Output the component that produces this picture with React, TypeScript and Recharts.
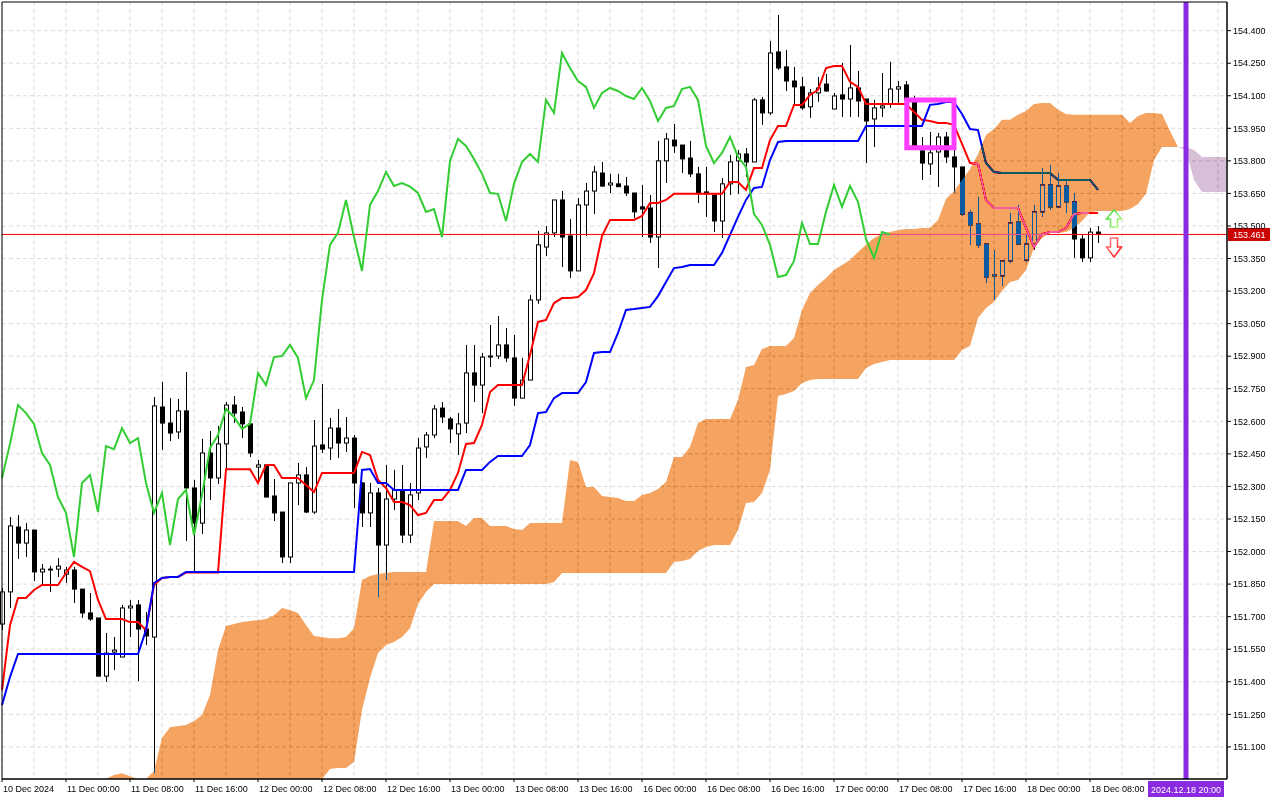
import React from "react"
import {
  ComposedChart,
  Bar,
  Line,
  Area,
  XAxis,
  YAxis,
  CartesianGrid,
  ReferenceLine,
  ReferenceArea,
  ReferenceDot,
} from "recharts"

const FONT = '"Liberation Sans", Arial, sans-serif'

// H1 bars, 10 Dec 16:00 (bar 0) .. 18 Dec 09:00 (bar 137)
const opens = [
  151.666, 151.814, 152.113, 152.039, 152.099, 151.906, 151.919, 151.919, 151.896, 151.915,
  151.827, 151.717, 151.694, 151.426, 151.537, 151.514, 151.740, 151.754, 151.643, 151.606,
  152.666, 152.592, 152.551, 152.648, 152.293, 152.131, 152.454, 152.339, 152.496, 152.675,
  152.643, 152.588, 152.389, 152.399, 152.256, 152.182, 151.975, 152.316, 152.353, 152.182,
  152.491, 152.477, 152.569, 152.500, 152.523, 152.316, 152.178, 152.270, 152.030, 152.242,
  152.284, 152.076, 152.270, 152.482, 152.537, 152.661, 152.611, 152.542, 152.592, 152.823,
  152.767, 152.896, 152.901, 152.952, 152.892, 152.707, 152.790, 153.159, 153.403, 153.468,
  153.620, 153.454, 153.293, 153.597, 153.661, 153.744, 153.689, 153.694, 153.684, 153.652,
  153.588, 153.583, 153.449, 153.800, 153.896, 153.873, 153.813, 153.740, 153.657, 153.643,
  153.523, 153.694, 153.800, 153.832, 153.795, 154.081, 154.021, 154.302, 154.233, 154.168,
  154.141, 154.049, 154.113, 154.154, 154.039, 154.104, 154.085, 154.136, 154.085, 153.993,
  154.044, 154.062, 154.131, 154.150, 154.081, 153.846, 153.786, 153.841, 153.910, 153.818,
  153.772, 153.560, 153.509, 153.417, 153.270, 153.270, 153.339, 153.518, 153.343, 153.417,
  153.565, 153.689, 153.588, 153.684, 153.611, 153.440, 153.353, 153.472,
]
const highs = [
  151.832, 152.159, 152.168, 152.131, 152.099, 151.943, 151.934, 151.970, 151.929, 151.929,
  151.827, 151.809, 151.694, 151.625, 151.606, 151.754, 151.777, 151.777, 151.721, 152.712,
  152.781, 152.707, 152.703, 152.827, 152.330, 152.519, 152.555, 152.579, 152.689, 152.717,
  152.666, 152.592, 152.422, 152.404, 152.334, 152.182, 152.316, 152.408, 152.389, 152.606,
  152.772, 152.615, 152.657, 152.620, 152.537, 152.320, 152.316, 152.293, 152.399, 152.376,
  152.399, 152.316, 152.523, 152.551, 152.675, 152.689, 152.620, 152.638, 152.952, 152.952,
  152.915, 153.044, 153.085, 153.030, 152.998, 152.892, 153.182, 153.477, 153.500, 153.620,
  153.661, 153.532, 153.629, 153.698, 153.777, 153.795, 153.740, 153.740, 153.726, 153.652,
  153.689, 153.643, 153.892, 153.929, 153.970, 153.873, 153.892, 153.772, 153.772, 153.643,
  153.721, 153.827, 153.850, 153.859, 154.090, 154.095, 154.353, 154.472, 154.311, 154.233,
  154.187, 154.131, 154.187, 154.200, 154.113, 154.251, 154.334, 154.214, 154.085, 154.081,
  154.205, 154.256, 154.168, 154.168, 154.099, 153.910, 153.933, 153.929, 153.933, 153.864,
  153.772, 153.574, 153.634, 153.417, 153.389, 153.343, 153.560, 153.597, 153.459, 153.597,
  153.767, 153.781, 153.744, 153.712, 153.652, 153.459, 153.491, 153.500,
]
const lows = [
  151.638, 151.740, 151.966, 151.975, 151.864, 151.850, 151.814, 151.883, 151.855, 151.763,
  151.694, 151.680, 151.426, 151.399, 151.454, 151.514, 151.606, 151.403, 151.569, 150.979,
  152.468, 152.509, 152.519, 152.049, 151.906, 152.081, 152.237, 152.311, 152.380, 152.592,
  152.523, 152.436, 152.330, 152.251, 152.141, 151.947, 151.947, 152.214, 152.178, 152.173,
  152.454, 152.422, 152.431, 152.459, 152.201, 152.113, 152.113, 151.790, 151.869, 152.191,
  152.039, 152.039, 152.237, 152.431, 152.523, 152.592, 152.500, 152.445, 152.546, 152.689,
  152.638, 152.850, 152.887, 152.873, 152.671, 152.707, 152.790, 153.141, 153.362, 153.449,
  153.311, 153.260, 153.293, 153.454, 153.555, 153.680, 153.652, 153.680, 153.638, 153.537,
  153.449, 153.422, 153.306, 153.698, 153.837, 153.744, 153.726, 153.606, 153.542, 153.472,
  153.445, 153.643, 153.648, 153.726, 153.795, 153.966, 154.012, 154.219, 154.122, 154.053,
  154.035, 153.998, 154.072, 154.118, 154.039, 154.002, 154.002, 154.002, 153.790, 153.864,
  154.002, 154.044, 154.067, 154.067, 153.850, 153.712, 153.735, 153.680, 153.790, 153.652,
  153.546, 153.413, 153.399, 153.237, 153.159, 153.224, 153.330, 153.413, 153.334, 153.389,
  153.542, 153.574, 153.583, 153.560, 153.353, 153.334, 153.334, 153.422,
]
const closes = [
  151.814, 152.118, 152.039, 152.099, 151.906, 151.919, 151.915, 151.933, 151.915, 151.827,
  151.717, 151.689, 151.426, 151.532, 151.546, 151.740, 151.749, 151.643, 151.611, 152.671,
  152.592, 152.546, 152.648, 152.293, 152.131, 152.454, 152.339, 152.496, 152.675, 152.638,
  152.588, 152.454, 152.399, 152.251, 152.178, 151.975, 152.316, 152.353, 152.182, 152.486,
  152.472, 152.569, 152.500, 152.523, 152.316, 152.178, 152.270, 152.030, 152.242, 152.284,
  152.076, 152.261, 152.477, 152.537, 152.657, 152.620, 152.565, 152.588, 152.823, 152.767,
  152.896, 152.901, 152.952, 152.892, 152.707, 152.790, 153.159, 153.413, 153.468, 153.620,
  153.449, 153.293, 153.597, 153.661, 153.749, 153.684, 153.698, 153.681, 153.652, 153.565,
  153.578, 153.449, 153.800, 153.901, 153.869, 153.809, 153.740, 153.652, 153.648, 153.523,
  153.694, 153.795, 153.832, 153.795, 154.081, 154.021, 154.297, 154.228, 154.168, 154.141,
  154.044, 154.113, 154.136, 154.122, 154.099, 154.085, 154.136, 154.076, 153.984, 154.044,
  154.053, 154.131, 154.141, 154.081, 153.869, 153.790, 153.837, 153.910, 153.818, 153.772,
  153.555, 153.505, 153.413, 153.265, 153.274, 153.339, 153.514, 153.417, 153.417, 153.565,
  153.689, 153.588, 153.684, 153.611, 153.440, 153.353, 153.472, 153.461,
]

// Tenkan-sen (red) and Kijun-sen (blue), one value per bar
const tenkan = [
  151.362, 151.661, 151.786, 151.786, 151.823, 151.846, 151.846, 151.846, 151.901, 151.952,
  151.929, 151.910, 151.777, 151.689, 151.689, 151.689, 151.675, 151.675, 151.638, 151.846,
  151.878, 151.883, 151.883, 151.903, 151.903, 151.903, 151.903, 151.903, 152.379, 152.379,
  152.379, 152.379, 152.316, 152.399, 152.399, 152.339, 152.339, 152.339, 152.307, 152.274,
  152.362, 152.362, 152.362, 152.362, 152.362, 152.459, 152.445, 152.330, 152.293, 152.228,
  152.228, 152.214, 152.168, 152.178, 152.237, 152.237, 152.284, 152.362, 152.496, 152.500,
  152.583, 152.735, 152.767, 152.767, 152.767, 152.767, 152.905, 153.058, 153.067, 153.145,
  153.168, 153.168, 153.173, 153.205, 153.283, 153.454, 153.528, 153.528, 153.528, 153.528,
  153.546, 153.606, 153.606, 153.620, 153.648, 153.648, 153.648, 153.648, 153.648, 153.648,
  153.648, 153.703, 153.703, 153.666, 153.767, 153.767, 153.896, 153.961, 153.961, 154.058,
  154.058, 154.104, 154.127, 154.228, 154.237, 154.237, 154.164, 154.141, 154.062, 154.062,
  154.062, 154.062, 154.062, 154.062, 154.025, 153.989, 153.984, 153.975, 153.975, 153.966,
  153.878, 153.790, 153.786, 153.620, 153.583, 153.583, 153.583, 153.583, 153.491, 153.403,
  153.463, 153.472, 153.472, 153.491, 153.555, 153.560, 153.560, 153.560,
]
const kijun = [
  151.293, 151.422, 151.528, 151.528, 151.528, 151.528, 151.528, 151.528, 151.528, 151.528,
  151.528, 151.528, 151.528, 151.528, 151.528, 151.528, 151.528, 151.528, 151.638, 151.855,
  151.878, 151.883, 151.883, 151.906, 151.906, 151.906, 151.906, 151.906, 151.906, 151.906,
  151.906, 151.906, 151.906, 151.906, 151.906, 151.906, 151.906, 151.906, 151.906, 151.906,
  151.906, 151.906, 151.906, 151.906, 151.906, 152.376, 152.380, 152.316, 152.316, 152.284,
  152.284, 152.284, 152.284, 152.284, 152.284, 152.284, 152.284, 152.284, 152.376, 152.376,
  152.376, 152.413, 152.440, 152.440, 152.440, 152.440, 152.491, 152.638, 152.643, 152.707,
  152.730, 152.730, 152.730, 152.781, 152.915, 152.919, 152.919, 153.007, 153.113, 153.117,
  153.122, 153.127, 153.177, 153.242, 153.306, 153.311, 153.320, 153.320, 153.320, 153.320,
  153.376, 153.459, 153.542, 153.620, 153.675, 153.680, 153.804, 153.887, 153.892, 153.892,
  153.892, 153.892, 153.892, 153.892, 153.892, 153.892, 153.892, 153.892, 153.961, 153.961,
  153.961, 153.961, 153.961, 153.961, 153.961, 153.961, 154.058, 154.062, 154.071, 154.071,
  154.016, 153.947, 153.942, 153.790, 153.749, 153.744, 153.744, 153.744, 153.744, 153.744,
  153.744, 153.744, 153.712, 153.712, 153.712, 153.712, 153.712, 153.666,
]

// Senkou span A / B as drawn (bars 0..153, cloud runs 26 bars ahead); null = not on screen
const spanA = [
  null, null, null, null, null, null, null, null, null, null,
  null, null, null, 150.947, 150.970, 150.979, 150.965, 150.943, 150.943, 150.989,
  151.141, 151.191, 151.196, 151.201, 151.219, 151.247, 151.339, 151.546, 151.657, 151.666,
  151.675, 151.680, 151.684, 151.689, 151.707, 151.740, 151.731, 151.717, 151.661, 151.611,
  151.606, 151.601, 151.601, 151.606, 151.647, 151.869, 151.887, 151.896, 151.901, 151.906,
  151.906, 151.906, 151.906, 151.906, 152.141, 152.141, 152.141, 152.141, 152.118, 152.155,
  152.155, 152.118, 152.118, 152.118, 152.104, 152.099, 152.131, 152.131, 152.131, 152.131,
  152.131, 152.422, 152.413, 152.297, 152.297, 152.256, 152.251, 152.247, 152.233, 152.233,
  152.260, 152.270, 152.288, 152.320, 152.436, 152.436, 152.482, 152.592, 152.611, 152.611,
  152.611, 152.611, 152.698, 152.850, 152.859, 152.933, 152.947, 152.947, 152.947, 152.984,
  153.113, 153.191, 153.228, 153.260, 153.297, 153.320, 153.343, 153.380, 153.413, 153.445,
  153.463, 153.472, 153.482, 153.486, 153.486, 153.491, 153.491, 153.528, 153.624, 153.661,
  153.712, 153.763, 153.832, 153.919, 153.947, 153.989, 153.989, 154.012, 154.030, 154.062,
  154.067, 154.067, 154.035, 154.016, 154.012, 154.012, 154.012, 154.012, 154.012, 154.012,
  154.012, 153.975, 154.007, 154.021, 154.021, 154.016, 153.938, 153.864, 153.850, 153.712,
  153.657, 153.657, 153.657, 153.657,
]
const spanB = [
  null, null, null, null, null, null, null, null, null, null,
  null, null, null, 150.800, 150.800, 150.800, 150.800, 150.800, 150.800, 150.800,
  150.800, 150.800, 150.800, 150.800, 150.800, 150.800, 150.800, 150.800, 150.800, 150.800,
  150.800, 150.800, 150.800, 150.800, 150.800, 150.800, 150.800, 150.800, 150.800, 150.800,
  150.951, 150.998, 151.003, 151.003, 151.030, 151.270, 151.417, 151.532, 151.569, 151.583,
  151.606, 151.647, 151.758, 151.814, 151.850, 151.850, 151.850, 151.850, 151.850, 151.850,
  151.850, 151.850, 151.850, 151.850, 151.850, 151.850, 151.850, 151.850, 151.850, 151.860,
  151.901, 151.901, 151.901, 151.901, 151.901, 151.901, 151.901, 151.901, 151.901, 151.901,
  151.901, 151.901, 151.901, 151.901, 151.952, 151.956, 151.966, 152.002, 152.021, 152.030,
  152.030, 152.030, 152.099, 152.224, 152.228, 152.270, 152.376, 152.717, 152.726, 152.740,
  152.777, 152.790, 152.795, 152.795, 152.795, 152.795, 152.795, 152.795, 152.846, 152.864,
  152.873, 152.882, 152.882, 152.882, 152.882, 152.882, 152.882, 152.882, 152.882, 152.882,
  152.929, 152.947, 153.076, 153.122, 153.150, 153.200, 153.242, 153.251, 153.297, 153.399,
  153.445, 153.468, 153.468, 153.472, 153.491, 153.523, 153.565, 153.569, 153.569, 153.569,
  153.569, 153.578, 153.601, 153.648, 153.804, 153.864, 153.864, 153.864, 153.864, 153.850,
  153.818, 153.818, 153.818, 153.818,
]

const CHIKOU_SHIFT = 26

const priceTicks = [
  151.1, 151.25, 151.4, 151.55, 151.7, 151.85, 152.0, 152.15, 152.3, 152.45, 152.6, 152.75,
  152.9, 153.05, 153.2, 153.35, 153.5, 153.65, 153.8, 153.95, 154.1, 154.25, 154.4,
]
const xTickBars = [0, 8, 16, 24, 32, 40, 48, 56, 64, 72, 80, 88, 96, 104, 112, 120, 128, 136]
const xTickLabels = [
  "10 Dec 2024", "11 Dec 00:00", "11 Dec 08:00", "11 Dec 16:00", "12 Dec 00:00", "12 Dec 08:00",
  "12 Dec 16:00", "13 Dec 00:00", "13 Dec 08:00", "13 Dec 16:00", "16 Dec 00:00", "16 Dec 08:00",
  "16 Dec 16:00", "17 Dec 00:00", "17 Dec 08:00", "17 Dec 16:00", "18 Dec 00:00", "18 Dec 08:00",
]

const lastPrice = 153.461
const markerBar = 148
const markerLabel = "2024.12.18 20:00"
const boxBars = [113.1, 119.0]
const boxPrices = [153.86, 154.081]
const signalBar = 139
const upSignal = 153.535
const downSignal = 153.401

const Y_MIN = 150.952
const Y_MAX = 154.532
const X_MAX = 153.125

const clampY = (v: number) => Math.min(Math.max(v, Y_MIN), Y_MAX)

const gridX: number[] = []
for (let b = 0; b <= 152; b += 4) gridX.push(b)

const data = spanA.map((_, i) => {
  const a = spanA[i]
  const b = spanB[i]
  const hasBar = i < opens.length
  const chik = i + CHIKOU_SHIFT < closes.length ? closes[i + CHIKOU_SHIFT] : null
  return {
    i,
    open: hasBar ? opens[i] : null,
    high: hasBar ? highs[i] : null,
    low: hasBar ? lows[i] : null,
    close: hasBar ? closes[i] : null,
    tenkan: hasBar ? tenkan[i] : null,
    kijun: hasBar ? kijun[i] : null,
    chikou: chik,
    bull: a != null && b != null && a >= b ? [clampY(b), clampY(a)] : null,
    bear: a != null && b != null && b >= a ? [clampY(a), clampY(b)] : null,
  }
})

function Candle(props: any) {
  const { x, y, width, height, payload } = props
  if (!payload || payload.open == null) return null
  const { open, close, high, low } = payload
  const top = Math.min(y, y + height)
  const bot = Math.max(y, y + height)
  const span = high - low
  const toY = (v: number) => (span === 0 ? top : top + ((high - v) / span) * (bot - top))
  const cx = Math.floor(x + width / 2) + 0.5
  const yo = toY(open)
  const yc = toY(close)
  const up = close >= open
  const bt = Math.min(yo, yc)
  const bh = Math.max(Math.abs(yc - yo), 0.5)
  return (
    <g>
      <line x1={cx} x2={cx} y1={top} y2={bot} stroke="#000" strokeWidth={1} />
      <rect x={cx - 2} y={bt} width={4} height={bh} fill={up ? "#fff" : "#000"} stroke="#000" strokeWidth={1} />
    </g>
  )
}

function XTick(props: any) {
  const { x, y, payload } = props
  const k = xTickBars.indexOf(payload.value)
  return (
    <text x={x + 1} y={y + 8} fontSize={9} fontFamily={FONT} fill="#000" textAnchor="start">
      {k >= 0 ? xTickLabels[k] : ""}
    </text>
  )
}

function PriceTag(props: any) {
  const vb = props.viewBox || {}
  const x = vb.x + vb.width
  const y = vb.y
  return (
    <g>
      <rect x={x + 1} y={y - 6.5} width={42} height={13} fill="#cc0000" />
      <text x={x + 6} y={y + 3.5} fontSize={9} fontFamily={FONT} fill="#fff">
        {lastPrice.toFixed(3)}
      </text>
    </g>
  )
}

function TimeTag(props: any) {
  const vb = props.viewBox || {}
  const cx = vb.x
  const bottom = vb.y + vb.height
  return (
    <g>
      <rect x={cx - 38} y={bottom + 2} width={76} height={16} fill="#8a2be2" />
      <text x={cx} y={bottom + 14} fontSize={9} fontFamily={FONT} fill="#fff" textAnchor="middle">
        {markerLabel}
      </text>
    </g>
  )
}

function UpArrow(props: any) {
  const { cx, cy } = props
  const pts = [
    [cx, cy - 8.5], [cx + 7.5, cy + 0.5], [cx + 3.5, cy + 0.5], [cx + 3.5, cy + 8.5],
    [cx - 3.5, cy + 8.5], [cx - 3.5, cy + 0.5], [cx - 7.5, cy + 0.5],
  ].map((p) => p.join(",")).join(" ")
  return <polygon points={pts} fill="#fff" stroke="url(#upGrad)" strokeWidth={1.5} />
}

function DownArrow(props: any) {
  const { cx, cy } = props
  const pts = [
    [cx - 3.5, cy - 9.5], [cx + 3.5, cy - 9.5], [cx + 3.5, cy - 0.5], [cx + 7.5, cy - 0.5],
    [cx, cy + 9.5], [cx - 7.5, cy - 0.5], [cx - 3.5, cy - 0.5],
  ].map((p) => p.join(",")).join(" ")
  return <polygon points={pts} fill="#fff" stroke="url(#downGrad)" strokeWidth={1.5} />
}

export default function App() {
  return (
    <div style={{ position: "absolute", left: 0, top: 0, width: 1280, height: 800, background: "#fff" }}>
      <style>{`.cloud-fill .recharts-area-area { mix-blend-mode: difference; }`}</style>
      <ComposedChart
        width={1280}
        height={800}
        data={data}
        margin={{ top: 2, right: 0, bottom: 0, left: 2 }}
      >
        <defs>
          <linearGradient id="upGrad" x1="0" y1="0" x2="1" y2="1">
            <stop offset="0%" stopColor="#22cc22" />
            <stop offset="100%" stopColor="#c8ff90" />
          </linearGradient>
          <linearGradient id="downGrad" x1="0" y1="0" x2="1" y2="1">
            <stop offset="0%" stopColor="#ff9090" />
            <stop offset="100%" stopColor="#ff0000" />
          </linearGradient>
        </defs>
        <CartesianGrid
          stroke="#dcdcdc"
          strokeDasharray="4 3"
          fill="#ffffff"
          fillOpacity={1}
          verticalValues={gridX}
          horizontalValues={priceTicks}
        />
        <XAxis
          type="number"
          dataKey="i"
          domain={[0, X_MAX]}
          ticks={xTickBars}
          interval={0}
          height={21}
          tickSize={3}
          tickMargin={2}
          axisLine={{ stroke: "#000" }}
          tickLine={{ stroke: "#000" }}
          tick={<XTick />}
        />
        <YAxis
          orientation="right"
          type="number"
          domain={[Y_MIN, Y_MAX]}
          ticks={priceTicks}
          interval={0}
          width={53}
          tickSize={4}
          tickMargin={2}
          axisLine={{ stroke: "#000" }}
          tickLine={{ stroke: "#000" }}
          tick={{ fontSize: 9, fill: "#000", fontFamily: FONT }}
          tickFormatter={(v: number) => v.toFixed(3)}
        />
        <Bar
          dataKey={(d: any) => (d.open == null ? null : [d.low, d.high])}
          shape={<Candle />}
          barSize={6}
          isAnimationActive={false}
          zIndex={300}
        />
        <Line
          dataKey="tenkan"
          type="linear"
          stroke="#ff0000"
          strokeWidth={2}
          dot={false}
          activeDot={false}
          isAnimationActive={false}
          zIndex={400}
        />
        <Line
          dataKey="kijun"
          type="linear"
          stroke="#0000ff"
          strokeWidth={2}
          dot={false}
          activeDot={false}
          isAnimationActive={false}
          zIndex={401}
        />
        <ReferenceLine y={lastPrice} stroke="#ff0000" strokeWidth={1} label={<PriceTag />} zIndex={420} />
        <Area
          className="cloud-fill"
          dataKey="bull"
          type="linear"
          stroke="none"
          fill="#0b5b9f"
          fillOpacity={1}
          isAnimationActive={false}
          activeDot={false}
          zIndex={450}
        />
        <Area
          className="cloud-fill"
          dataKey="bear"
          type="linear"
          stroke="none"
          fill="#274027"
          fillOpacity={1}
          isAnimationActive={false}
          activeDot={false}
          zIndex={451}
        />
        <Line
          dataKey="chikou"
          type="linear"
          stroke="#32cd32"
          strokeWidth={2}
          dot={false}
          activeDot={false}
          isAnimationActive={false}
          zIndex={460}
        />
        <ReferenceLine x={markerBar} stroke="#8a2be2" strokeWidth={5} label={<TimeTag />} zIndex={470} />
        <ReferenceArea
          x1={boxBars[0]}
          x2={boxBars[1]}
          y1={boxPrices[0]}
          y2={boxPrices[1]}
          stroke="#ff3cff"
          strokeWidth={5}
          fill="none"
          fillOpacity={0}
          zIndex={480}
        />
        <ReferenceDot x={signalBar} y={upSignal} shape={<UpArrow />} zIndex={490} />
        <ReferenceDot x={signalBar} y={downSignal} shape={<DownArrow />} zIndex={490} />
        {/* chart frame */}
        <ReferenceArea
          x1={0}
          x2={X_MAX}
          y1={Y_MIN}
          y2={Y_MAX}
          ifOverflow="visible"
          stroke="#000"
          strokeWidth={1}
          fill="none"
          fillOpacity={0}
          zIndex={495}
        />
      </ComposedChart>
    </div>
  )
}
